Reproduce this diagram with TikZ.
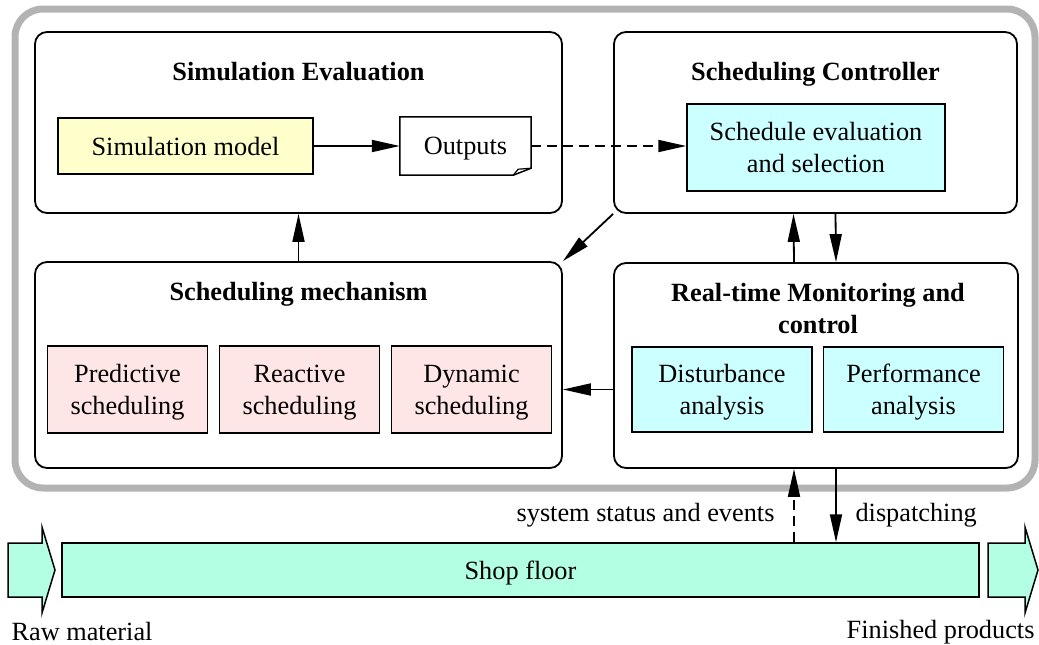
\documentclass[tikz,border=0pt]{standalone}
\usepackage{fontspec}
\setmainfont{Liberation Serif}
\usetikzlibrary{calc,positioning,fit,arrows.meta}

\definecolor{modelyellow}{HTML}{FFFFCC}
\definecolor{analysiscyan}{HTML}{CCFFFF}
\definecolor{schedpink}{HTML}{FFE6E6}
\definecolor{floormint}{HTML}{B3FFE3}
\definecolor{framegray}{HTML}{B3B3B3}

\newcommand{\diafont}{\fontsize{26.3}{32}\selectfont}

\tikzset{
	module/.style={draw, line width=1.8pt, rounded corners=12pt, inner sep=0pt},
	modtitle/.style={font=\diafont\bfseries, align=center},
	subbox/.style={draw, line width=1.5pt, align=center, inner sep=0pt,
		text depth=0pt, font=\diafont},
	ctrlarrow/.style={line width=1.8pt, -{Triangle[length=28pt,width=12pt]}},
	infoarrow/.style={ctrlarrow, dash pattern=on 10pt off 6pt},
}

\begin{document}
\begin{tikzpicture}[x=1pt, y=-1pt, font=\diafont]
	\useasboundingbox (0,0) rectangle (1039,645);

	% Gray frame round the whole scheduling system
	\draw[framegray, line width=7pt, rounded corners=28pt] (15,9) rectangle (1035,488);

	% Modules
	\node[module, fit={(35,32) (562,213)}] (simeval) {};
	\node[module, fit={(614,32) (1017,213)}] (ctrl) {};
	\node[module, fit={(35,262) (562,468)}] (mech) {};
	\node[module, fit={(614,263) (1018,468)}] (rtmc) {};

	% Module titles
	\node[modtitle, anchor=base] (simeval-t) at ($(simeval.north)+(0,49)$) {Simulation Evaluation};
	\node[modtitle, anchor=base] (ctrl-t) at ($(ctrl.north)+(0,49)$) {Scheduling Controller};
	\node[modtitle, anchor=base] (mech-t) at ($(mech.north)+(0,39)$) {Scheduling mechanism};
	\node[modtitle] (rtmc-t) at ($(rtmc.north)+(2,46)$) {Real-time Monitoring and\\control};

	% Simulation evaluation
	\node[subbox, fill=modelyellow, minimum width=255pt, minimum height=56pt]
		(model) at (185.5,146) {Simulation model};
	\node[minimum width=131pt, minimum height=58pt, inner sep=0pt, text depth=0pt]
		(outputs) at (465.5,146) {Outputs};
	\draw[line width=1.5pt] (outputs.north west) -- (outputs.north east)
		-- ($(outputs.south east)+(0,-7)$) -- ($(outputs.south east)+(-18,0)$)
		-- (outputs.south west) -- cycle;
	\draw[line width=1.2pt] ($(outputs.south east)+(-18,0)$)
		-- ($(outputs.south east)+(-13,-6)$) -- ($(outputs.south east)+(0,-7)$);

	% Scheduling controller
	\node[subbox, fill=analysiscyan, minimum width=258pt, minimum height=87pt]
		(select) at (816,147.5) {Schedule evaluation\\and selection};

	% Scheduling mechanism
	\node[subbox, fill=schedpink, minimum width=160pt, minimum height=87pt]
		(predict) at (127.5,389.5) {Predictive\\scheduling};
	\node[subbox, fill=schedpink, minimum width=160pt, minimum height=87pt,
		right=10.5pt of predict] (react) {Reactive\\scheduling};
	\node[subbox, fill=schedpink, minimum width=160pt, minimum height=87pt,
		right=10.5pt of react] (dynamic) {Dynamic\\scheduling};

	% Real-time monitoring and control
	\node[subbox, fill=analysiscyan, minimum width=180pt, minimum height=85pt]
		(disturb) at (722,389.5) {Disturbance\\analysis};
	\node[subbox, fill=analysiscyan, minimum width=180pt, minimum height=85pt,
		right=10pt of disturb] (perform) {Performance\\analysis};

	% Shop floor with material in and out
	\node[subbox, fill=floormint, minimum width=917pt, minimum height=54pt]
		(floor) at (520.5,570) {Shop floor};
	\draw[line width=1.5pt, fill=floormint] (8,543) -- (42,543) -- (42,527)
		-- (55,570) -- (42,613) -- (42,597) -- (8,597) -- cycle;
	\draw[line width=1.5pt, fill=floormint] (988,543) -- (1025,543) -- (1025,527)
		-- (1038,570) -- (1025,613) -- (1025,597) -- (988,597) -- cycle;
	\node[anchor=west] (raw) at (8,631) {Raw material};
	\node[anchor=east] (finished) at (1038,632) {Finished products};

	% Connections between modules
	\draw[ctrlarrow] (model) -- (outputs);
	\draw[infoarrow] (outputs.east) -- (outputs.east -| select.west);
	\draw[ctrlarrow] (mech.north) -- (simeval.south);
	\draw[ctrlarrow] (ctrl.south west) -- (mech.north east);
	\draw[ctrlarrow] ([xshift=-22pt]rtmc.north) -- ([xshift=-22pt]ctrl.south);
	\draw[ctrlarrow] ([xshift=20pt]ctrl.south) -- ([xshift=20pt]rtmc.north);
	\draw[ctrlarrow] (disturb -| rtmc.west) -- (disturb -| mech.east);

	% Feedback from and orders to the shop floor
	\coordinate (status) at ([xshift=-22pt]rtmc.south);
	\coordinate (dispatch) at ([xshift=20pt]rtmc.south);
	\draw[infoarrow] (status |- floor.north) -- (status);
	\draw[ctrlarrow] (dispatch) -- (dispatch |- floor.north);
	\node[left=16pt] (status-l) at ($(status |- floor.north)!0.37!(status)$)
		{system status and events};
	\node[right=16pt] (dispatch-l) at ($(dispatch |- floor.north)!0.37!(dispatch)$)
		{dispatching};
\end{tikzpicture}
\end{document}
